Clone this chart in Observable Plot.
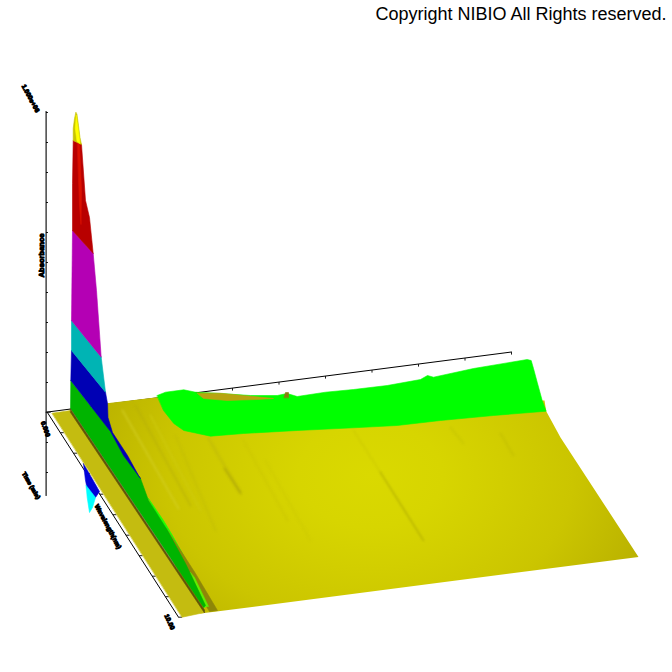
<!DOCTYPE html>
<html>
<head>
<meta charset="utf-8">
<style>html,body{margin:0;padding:0;background:#fff}svg{display:block}.soft{filter:blur(0.9px)}</style>
<script src="https://cdn.jsdelivr.net/npm/d3@7"></script>
<script src="https://cdn.jsdelivr.net/npm/@observablehq/plot@0.6"></script>
</head>
<body>
<script>
// Projected (screen-plane) outlines.
const zAxisLine = [[45.6,111],[45.6,495]];
const zAxisTicks = [112,142,172,202,232,262,292,322,352,382,442,472];
const backAxisLine = [[45.6,411.7],[511,351.5]];
const backTicksX = [92.5,139,185.5,232,278.5,325,371.5,418,464.5,511];
const backTicksY = [405.7,399.6,393.6,387.6,381.6,375.6,369.6,363.6,357.6,351.6];
const frontAxisLine = [[46.7,411.7],[178,616.7]];
const frontTicksX = [46.7,59.8,73,86.1,99.2,112.4,125.5,138.6,151.7,164.9,178];
const frontTicksY = [411.7,432.2,452.7,473.2,493.7,514.2,534.7,555.2,575.7,596.2,616.7];

const surfaceOutline = [[90,404],[106.7,402.7],[156.7,396.7],[544,400],[545.7,410.7],[560,437],[638,556.5],[216,611],[200,613]];
const glowOffsets = [0,0.25,0.45,0.7,1];
const glowColors = ["#dad900","#d7d500","#d2ce00","#cbc500","#bab200"];
const striations = [
  {path:[[122,410],[178,508]],color:"#d6d228",width:2.5,opacity:0.5},
  {path:[[135,405],[190,505]],color:"#b4ac08",width:2,opacity:0.45},
  {path:[[150,415],[200,510]],color:"#d0cc10",width:2.5,opacity:0.5},
  {path:[[175,435],[215,530]],color:"#bcb608",width:2,opacity:0.35},
  {path:[[208,438],[240,493]],color:"#c0b908",width:3,opacity:0.5},
  {path:[[224,468],[240,492]],color:"#a8a008",width:2,opacity:0.55},
  {path:[[243,440],[287,520]],color:"#c8c400",width:2,opacity:0.4},
  {path:[[265,460],[310,540]],color:"#cac800",width:2,opacity:0.4},
  {path:[[353,430],[380,472]],color:"#c4c000",width:1.2,opacity:0.5},
  {path:[[380,472],[423,540]],color:"#a8a400",width:1.4,opacity:0.7},
  {path:[[450,427],[463,443]],color:"#bebc00",width:2,opacity:0.35},
  {path:[[500,433],[513,455]],color:"#b8b400",width:2,opacity:0.35}
];

const limeTop = [[156.7,395],[165,391.7],[183.3,389.3],[195,391.7],[220,393],[250,395],[276.7,395],[286.7,393],[296.7,396],[325,391.7],[353,389],[386.7,385],[420,379],[427,375],[433,376.7],[473,368],[526.7,359],[530.7,360],[533,368],[536.7,381.7],[541.7,400],[545.7,410.7]];
const limeBottom = [[493,415],[440,420],[396.7,425],[353,427.3],[296.7,430],[243,433],[210,435.7],[183.3,430],[173.3,423],[163,410]];
const innerOlive = [[196.7,392.7],[203,398],[226.7,400],[256.7,399],[273,398],[243,395],[220,392.7]];
const bump = [[283.5,397],[285,392],[288,392],[288,397]];

const stripBase = [[51.7,412.7],[70,410],[204,612],[181.7,616.7]];
const stripEdge = [[70,408.5],[204,609.5],[204,612.5],[70,412]];
const limeFringe = [[148,498],[163,520],[172,535],[182,553],[192,572],[207,605],[204,607],[170,545]];
const oliveRidge = [[165,527],[177,545],[195,573],[217,610],[209,611],[196,590],[180,560]];
const limeEnd = [[190,572],[194,577],[208,606],[205,606]];
const lowerBlue = [[83,463],[99,491],[95,497],[87,490],[85,480]];
const lowerCyan = [[85.7,485],[95,497],[92,507],[89,512],[86.7,497]];

const peakYellow = [[75.3,112],[74,118],[72.7,128],[72.7,140],[81,144],[79.5,137],[78,125],[76.5,114]];
const peakYellowCore = [[75.7,115],[74.8,128],[76.5,141],[79.5,143],[77.5,127]];
const peakRed = [[72.7,140],[72,183],[72,230],[92.7,253],[89,217],[85,200],[81,144]];
const peakRedCore = [[77,142],[79,142],[81,190],[80.5,224],[79,205]];
const peakMagenta = [[72,230],[71,320],[100.7,356.7],[96,290],[92.7,253]];
const peakTeal = [[71,320],[71,350],[105,391.7],[100.7,356.7]];
const peakBlue = [[71,350],[70.3,380],[110,431],[123,455],[140,478],[138,475],[127,455],[112,432],[107.5,417],[107,403],[105,391.7]];
const peakGreen = [[70.3,380],[70,408],[203,607],[205,605],[185,563],[167,530],[148,500],[140,478],[123,455],[110,431]];

const labelTexts = ["1.000e+06","Absorbance","Time (min)","Wavelength(nm)","0.000","10.00"];
const labelX = [30,41,30.5,107.5,45,169];
const labelY = [98,255,485,526,428.5,621.5];
const labelAngle = [62,-90,60,62,70,65];
const labelSize = [6.4,7.6,6,6.4,6.4,6.4];

const poly = (pts, fill, extra = {}) => Plot.line(pts, {x: d => d[0], y: d => d[1], fill, stroke: fill.startsWith("url") ? "none" : fill, strokeWidth: 0.6, curve: "linear-closed", ...extra});
const path = (pts, stroke, strokeWidth = 1, extra = {}) => Plot.line(pts, {x: d => d[0], y: d => d[1], stroke, strokeWidth, curve: "linear", ...extra});
const tickData = (xs, ys, dx, dy) => xs.map((x, i) => ({x1: x, y1: ys[i], x2: x + dx, y2: ys[i] + dy}));

// Smooth lighting of the flat surface, as a gradient definition the fill can refer to.
const lightingDefs = () => {
  const ns = "http://www.w3.org/2000/svg";
  const defs = document.createElementNS(ns, "defs");
  const g = document.createElementNS(ns, "radialGradient");
  g.setAttribute("id", "surfaceGlow");
  g.setAttribute("gradientUnits", "userSpaceOnUse");
  g.setAttribute("cx", 370); g.setAttribute("cy", 475); g.setAttribute("r", 290);
  g.setAttribute("gradientTransform", "translate(370 475) scale(1 0.72) translate(-370 -475)");
  glowOffsets.forEach((o, i) => {
    const s = document.createElementNS(ns, "stop");
    s.setAttribute("offset", o); s.setAttribute("stop-color", glowColors[i]);
    g.appendChild(s);
  });
  defs.appendChild(g);
  return defs;
};

const chart = Plot.plot({
  width: 672, height: 672,
  marginTop: 0, marginRight: 0, marginBottom: 0, marginLeft: 0,
  x: {domain: [0, 672], range: [0, 672], axis: null},
  y: {domain: [0, 672], range: [0, 672], axis: null},
  style: {background: "#fff"},
  marks: [
    lightingDefs,
    path(zAxisLine, "#000", 1.1),
    Plot.link(zAxisTicks, {x1: 45.6, x2: 47.4, y1: d => d, y2: d => d, stroke: "#000", strokeWidth: 1}),
    path(backAxisLine, "#000", 1),
    Plot.link(tickData(backTicksX, backTicksY, 0, 2.5), {x1: "x1", y1: "y1", x2: "x2", y2: "y2", stroke: "#000", strokeWidth: 0.9}),
    path(frontAxisLine, "#000", 1),
    Plot.link(tickData(frontTicksX, frontTicksY, 3.5, 0), {x1: "x1", y1: "y1", x2: "x2", y2: "y2", stroke: "#000", strokeWidth: 0.9}),
    poly(surfaceOutline, "url(#surfaceGlow)"),
    ...striations.map(s => path(s.path, s.color, s.width, {className: "soft", strokeOpacity: s.opacity})),
    poly([...limeTop, ...limeBottom], "#00ff00"),
    poly(innerOlive, "#b8a410"),
    poly(bump, "#8c7a10"),
    poly(lowerBlue, "#0000d8"),
    poly(lowerCyan, "#00ffff"),
    poly(stripBase, "#c4bc10"),
    poly(limeFringe, "#20ff00"),
    poly(oliveRidge, "#8e8608"),
    poly(limeEnd, "#60f000"),
    poly(peakGreen, "#00b400"),
    poly(stripEdge, "#605408"),
    poly(peakBlue, "#0000b4"),
    poly(peakTeal, "#00b4b4"),
    poly(peakMagenta, "#b400b4"),
    poly(peakRed, "#b80000"),
    poly(peakRedCore, "#dc1000"),
    poly(peakYellow, "#c8c400"),
    poly(peakYellowCore, "#ffff00"),
    ...labelTexts.map((t, i) => Plot.text([t], {text: d => d, x: labelX[i], y: labelY[i], rotate: labelAngle[i], fontSize: labelSize[i], fontWeight: "bold", fontFamily: "Liberation Sans", fill: "#000", stroke: "#000", strokeWidth: 1, textAnchor: "middle"})),
    Plot.text(["Copyright NIBIO All Rights reserved."], {text: d => d, x: 375, y: 19.5, textAnchor: "start", lineAnchor: "bottom", fontSize: 18, fontFamily: "Liberation Sans", fill: "#000"})
  ]
});
document.body.appendChild(chart);
</script>
</body>
</html>
